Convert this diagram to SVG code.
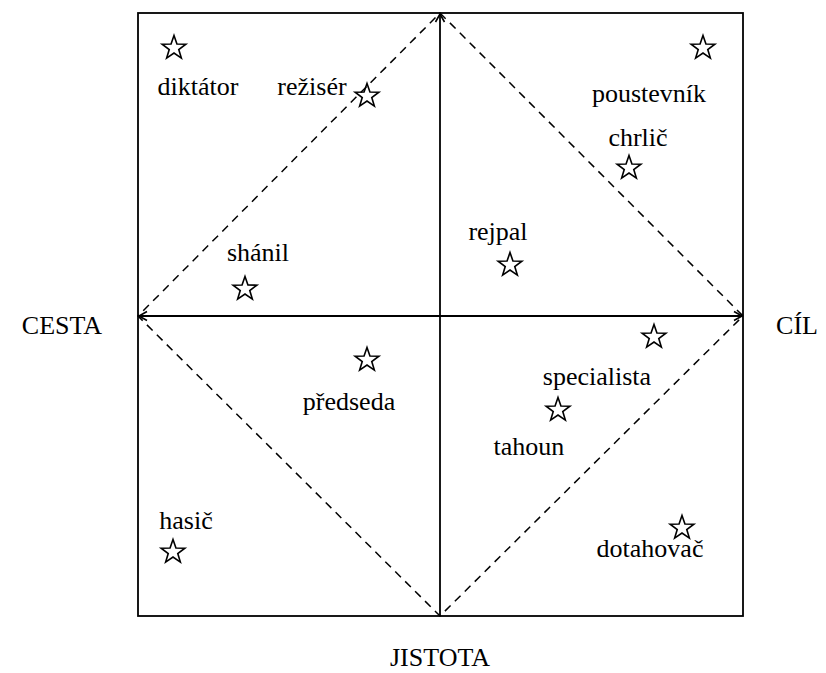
<svg xmlns="http://www.w3.org/2000/svg" width="826" height="673" viewBox="0 0 826 673">
<style>
text{font-family:"Liberation Serif","Times New Roman",serif;font-size:26px;fill:#000;text-anchor:middle}
.star{fill:none;stroke:#000;stroke-width:1.6;stroke-linejoin:miter}
.axis{stroke:#000;stroke-width:1.8;fill:none}
.dash{stroke:#000;stroke-width:1.5;fill:none;stroke-dasharray:8,6}
</style>
<defs>
<path id="st" d="M0,-12.5 L2.94,-4.05 L11.89,-3.86 L4.76,1.55 L7.35,10.11 L0,5 L-7.35,10.11 L-4.76,1.55 L-11.89,-3.86 L-2.94,-4.05 Z"/>
<marker id="ah" markerWidth="12" markerHeight="12" refX="10" refY="6" orient="auto" markerUnits="userSpaceOnUse">
<path d="M2,1.5 L10,6 L2,10.5" fill="none" stroke="#000" stroke-width="1.6"/>
</marker>
<marker id="ahs" markerWidth="12" markerHeight="12" refX="2" refY="6" orient="auto" markerUnits="userSpaceOnUse">
<path d="M10,1.5 L2,6 L10,10.5" fill="none" stroke="#000" stroke-width="1.6"/>
</marker>
</defs>
<rect x="0" y="0" width="826" height="673" fill="#fff"/>
<g id="connectors">
<rect x="138" y="13" width="605" height="603" class="axis"/>
<path class="dash" d="M440,13 L743,316 L440,616 L138,316 Z"/>
<line class="axis" x1="440" y1="616" x2="440" y2="14" marker-end="url(#ah)"/>
<line class="axis" x1="139" y1="316" x2="742" y2="316" marker-start="url(#ahs)" marker-end="url(#ah)"/>
</g>
<g id="diktator"><use href="#st" class="star" x="174" y="48"/><text x="198" y="95">diktátor</text></g>
<g id="reziser"><use href="#st" class="star" x="367" y="96"/><text x="312" y="95">režisér</text></g>
<g id="poustevnik"><use href="#st" class="star" x="703" y="48"/><text x="649" y="102">poustevník</text></g>
<g id="chrlic"><use href="#st" class="star" x="629" y="168"/><text x="638" y="146">chrlič</text></g>
<g id="rejpal"><use href="#st" class="star" x="510" y="265"/><text x="498" y="240">rejpal</text></g>
<g id="shanil"><use href="#st" class="star" x="245" y="289"/><text x="258" y="261">shánil</text></g>
<g id="predseda"><use href="#st" class="star" x="367" y="360"/><text x="349" y="410">předseda</text></g>
<g id="specialista"><use href="#st" class="star" x="654" y="337"/><text x="597" y="385">specialista</text></g>
<g id="tahoun"><use href="#st" class="star" x="558" y="410"/><text x="529" y="455">tahoun</text></g>
<g id="hasic"><use href="#st" class="star" x="173" y="552"/><text x="186" y="529">hasič</text></g>
<g id="dotahovac"><use href="#st" class="star" x="682" y="528"/><text x="650" y="557">dotahovač</text></g>
<g id="cesta"><text x="62" y="334">CESTA</text></g>
<g id="cil"><text x="797" y="334">CÍL</text></g>
<g id="jistota"><text x="440" y="666">JISTOTA</text></g>
</svg>
